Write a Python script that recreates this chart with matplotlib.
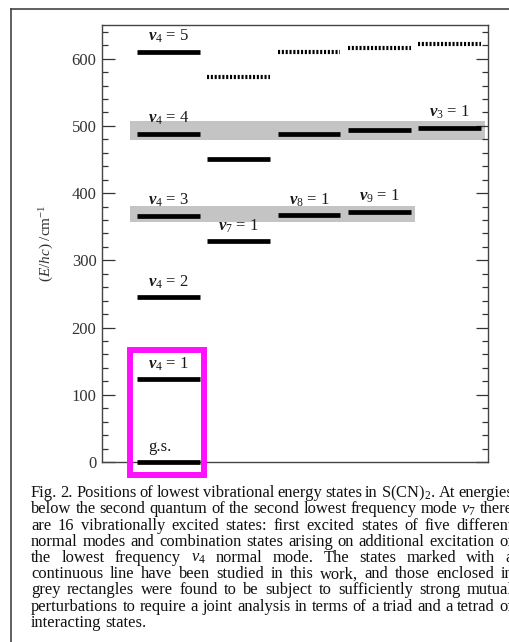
import matplotlib
matplotlib.use("Agg")
import matplotlib.pyplot as plt
from matplotlib.patches import Rectangle
from matplotlib.lines import Line2D
from matplotlib.transforms import IdentityTransform
from matplotlib.ticker import MultipleLocator

plt.rcParams["font.family"] = ["Liberation Serif", "DejaVu Serif"]
plt.rcParams["mathtext.fontset"] = "custom"
plt.rcParams["mathtext.rm"] = "Liberation Serif"
plt.rcParams["mathtext.it"] = "Liberation Serif:italic"
plt.rcParams["mathtext.bf"] = "Liberation Serif:italic:bold"

# energy levels (cm-1), by column
solid_cols = [0, 0, 0, 0, 0, 0, 1, 1, 2, 2, 3, 3, 4]
solid_levels = [0, 123, 245, 366, 488, 610, 328, 450, 367, 488, 372, 494, 497]
dashed_cols = [1, 2, 3, 4]
dashed_levels = [572, 610, 616, 621]

label_cols = [0, 0, 0, 0, 0, 0, 1, 2, 3, 4]
label_levels = [0, 123, 245, 366, 488, 610, 328, 367, 372, 497]
label_texts = ["g.s.", r"$\mathbf{v}_4$ = 1", r"$\mathbf{v}_4$ = 2", r"$\mathbf{v}_4$ = 3",
               r"$\mathbf{v}_4$ = 4", r"$\mathbf{v}_4$ = 5", r"$\mathbf{v}_7$ = 1",
               r"$\mathbf{v}_8$ = 1", r"$\mathbf{v}_9$ = 1", r"$\mathbf{v}_3$ = 1"]

# grey boxes: tetrad and triad (column range, level range)
tetrad_cols = [0, 4]
tetrad_levels = [488, 497]
triad_cols = [0, 3]
triad_levels = [366, 372]

caption_lines = [
    r"Fig. 2.  Positions of lowest vibrational energy states in S(CN)$_2$. At energies",
    r"below the second quantum of the second lowest frequency mode $\nu_7$ there",
    r"are 16 vibrationally excited states: first excited states of five different",
    r"normal modes and combination states arising on additional excitation of",
    r"the lowest frequency $\nu_4$ normal mode. The states marked with a",
    r"continuous line have been studied in this work, and those enclosed in",
    r"grey rectangles were found to be subject to sufficiently strong mutual",
    r"perturbations to require a joint analysis in terms of a triad and a tetrad of",
    r"interacting states.",
]

W, H = 509, 642
fig = plt.figure(figsize=(W / 100, H / 100), dpi=100)
ax = fig.add_axes([102 / W, 1 - 462 / H, 386 / W, 437 / H])

hw = 0.448
for c, e in zip(solid_cols, solid_levels):
    ax.hlines(e, c - hw, c + hw, colors="black", lw=3.4, zorder=3,
              capstyle="butt", clip_on=False)
for c, e in zip(dashed_cols, dashed_levels):
    ax.hlines(e, c - hw, c + hw, colors="black", lw=3.0, zorder=3,
              linestyles=[(0, (0.5, 0.42))], capstyle="butt")

for cols, levs in [(tetrad_cols, tetrad_levels), (triad_cols, triad_levels)]:
    x0 = cols[0] - 0.548
    x1 = cols[1] + 0.505
    ax.add_patch(Rectangle((x0, levs[0] - 8.5), x1 - x0, levs[1] - levs[0] + 18,
                           facecolor="#c4c4c4", edgecolor="none", zorder=1))

for c, e, s in zip(label_cols, label_levels, label_texts):
    dx = -0.12 if s == "g.s." else 0
    ax.text(c + dx, e + 10, s, ha="center", va="bottom", fontsize=12,
            color="#1a1a1a", zorder=4)

# magenta highlight around g.s. and v4 = 1
ax.add_patch(Rectangle((-0.552, -19.3), 1.053, 186, facecolor="none",
                       edgecolor="#ff10ff", lw=4.3, clip_on=False, zorder=5))

ax.set_xlim(-0.947, 4.548)
ax.set_ylim(0, 650)
ax.set_xticks([])
ax.yaxis.set_major_locator(MultipleLocator(100))
ax.yaxis.set_minor_locator(MultipleLocator(20))
ax.tick_params(axis="y", which="both", direction="in", left=True, right=True,
               colors="#333333", labelsize=12)
ax.tick_params(axis="y", which="major", length=9, width=0.9, pad=4)
ax.tick_params(axis="y", which="minor", length=4, width=0.9)
for sp in ax.spines.values():
    sp.set_color("#444444")
    sp.set_linewidth(1.0)
ax.set_ylabel(r"$(E/hc)$ /cm$^{-1}$", fontsize=11, color="#333333")
ax.yaxis.set_label_coords(-0.118, 0.5)

# outer frame (top and left edges visible)
fig.add_artist(Line2D([11 / W, 1.02], [1 - 9 / H, 1 - 9 / H], color="#444444", lw=1.2))
fig.add_artist(Line2D([11 / W, 11 / W], [1 - 9 / H, -0.02], color="#444444", lw=1.2))

# justified caption
renderer = fig.canvas.get_renderer()
x_left, x_right = 31, 513
base_y = H - 497
step = 16.25

probe = fig.text(0, 0, caption_lines[7], fontsize=10, transform=IdentityTransform())
fs = 10 * 480 / probe.get_window_extent(renderer).width
probe.remove()

for i, line in enumerate(caption_lines):
    y = base_y - i * step
    words = line.split()
    items = []
    for w in words:
        t = fig.text(0, y, w, fontsize=fs, color="#111111", va="baseline",
                     transform=IdentityTransform())
        items.append((t, t.get_window_extent(renderer).width))
    total = sum(wd for _, wd in items)
    if i < len(caption_lines) - 1:
        gap = (x_right - x_left - total) / (len(items) - 1)
    else:
        gap = fs * 0.25 * 100 / 72
    x = x_left
    for t, wd in items:
        t.set_x(x)
        x += wd + gap

fig.savefig("out.png", dpi=100, facecolor="white")
